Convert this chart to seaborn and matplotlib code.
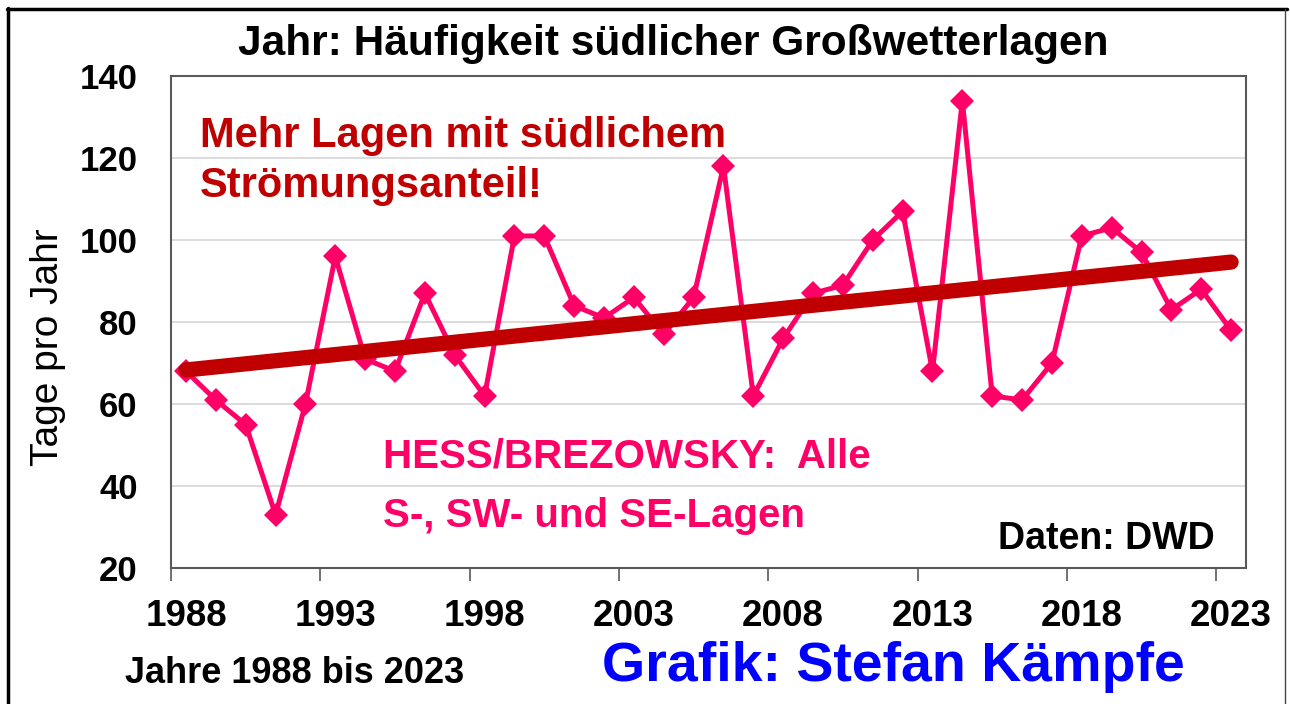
import matplotlib

matplotlib.use("Agg")
import matplotlib.pyplot as plt
from matplotlib.lines import Line2D
import numpy as np
import pandas as pd
import seaborn as sns

# Südliche Großwetterlagen (Hess/Brezowsky), Tage pro Jahr
YEARS = list(range(1988, 2024))
DAYS = [
    68, 61, 55, 33, 60, 96, 71, 68, 87, 72,
    62, 101, 101, 84, 81, 86, 77, 86, 118, 62,
    76, 87, 89, 100, 107, 68, 134, 62, 61, 70,
    101, 103, 97, 83, 88, 78,
]
Y_TICKS = [20, 40, 60, 80, 100, 120, 140]
X_TICK_YEARS = YEARS[::5]

PINK = "#FF0066"
DARK_RED = "#C00000"
BLUE = "#0000FF"
SPINE_GREY = "#595959"


def main() -> None:
    df = pd.DataFrame({"Jahr": YEARS, "Tage": DAYS})

    sns.set_theme(style="white")
    plt.rcParams["font.family"] = ["Liberation Sans", "DejaVu Sans"]
    for key in ("text.color", "axes.labelcolor", "xtick.color", "ytick.color"):
        plt.rcParams[key] = "black"

    fig = plt.figure(figsize=(12.9, 7.04), dpi=100)
    ax = fig.add_axes([0.1326, 0.193, 0.8333, 0.699])

    sns.lineplot(
        data=df,
        x="Jahr",
        y="Tage",
        ax=ax,
        color=PINK,
        linewidth=3.6,
        marker="D",
        markersize=12,
        markeredgewidth=0,
        zorder=3,
    )
    # linear trend (Excel-like trendline)
    sns.regplot(
        data=df,
        x="Jahr",
        y="Tage",
        ax=ax,
        scatter=False,
        ci=None,
        truncate=True,
        line_kws=dict(color=DARK_RED, linewidth=11, solid_capstyle="round", zorder=4),
    )

    # categories sit between the tick marks; labels sit on the category centre
    ax.set_xlim(YEARS[0] - 0.5, YEARS[-1] + 0.5)
    ax.set_xticks([y - 0.5 for y in X_TICK_YEARS])
    ax.set_xticklabels([])
    ax.set_xticks(X_TICK_YEARS, minor=True)
    ax.set_xticklabels([str(y) for y in X_TICK_YEARS], minor=True)
    ax.set_ylim(Y_TICKS[0], Y_TICKS[-1])
    ax.set_yticks(Y_TICKS)

    ax.grid(axis="y", color="#D9D9D9", linewidth=1.3)
    ax.set_axisbelow(True)
    for side in ("left", "right", "top", "bottom"):
        ax.spines[side].set_color(SPINE_GREY)
        ax.spines[side].set_linewidth(1.5)

    ax.tick_params(axis="x", which="major", direction="out", length=9, width=1.2,
                   color=SPINE_GREY, bottom=True)
    ax.tick_params(axis="x", which="minor", length=0, pad=22, labelsize=26.5, bottom=True)
    ax.tick_params(axis="y", length=0, pad=24, labelsize=25)
    for lbl in ax.get_xticklabels(minor=True) + ax.get_yticklabels():
        lbl.set_fontweight("bold")

    ax.set_xlabel("")
    ax.set_ylabel("Tage pro Jahr", fontsize=28)
    ax.yaxis.set_label_coords(-0.098, 0.449)

    # annotations inside the plot
    ax.text(0.027, 0.856, "Mehr Lagen mit südlichem", transform=ax.transAxes,
            color=DARK_RED, fontsize=30, fontweight="bold", va="baseline")
    ax.text(0.027, 0.755, "Strömungsanteil!", transform=ax.transAxes,
            color=DARK_RED, fontsize=30, fontweight="bold", va="baseline")
    ax.text(0.197, 0.205, "HESS/BREZOWSKY:  Alle", transform=ax.transAxes,
            color=PINK, fontsize=29, fontweight="bold", va="baseline")
    ax.text(0.197, 0.083, "S-, SW- und SE-Lagen", transform=ax.transAxes,
            color=PINK, fontsize=29, fontweight="bold", va="baseline")
    ax.text(0.971, 0.039, "Daten: DWD", transform=ax.transAxes,
            color="black", fontsize=27, fontweight="bold", va="baseline", ha="right")

    # figure texts
    fig.text(0.522, 0.922, "Jahr: Häufigkeit südlicher Großwetterlagen",
             fontsize=30.5, fontweight="bold", ha="center", va="baseline")
    fig.text(0.097, 0.030, "Jahre 1988 bis 2023", fontsize=26,
             fontweight="bold", va="baseline")
    fig.text(0.467, 0.032, "Grafik: Stefan Kämpfe", fontsize=40,
             fontweight="bold", color=BLUE, va="baseline")

    # outer frame of the picture
    fig.add_artist(Line2D([0.0065, 0.0065], [0.0, 0.988], transform=fig.transFigure,
                          color="black", linewidth=2.5))
    fig.add_artist(Line2D([0.0055, 0.9975], [0.987, 0.987], transform=fig.transFigure,
                          color="black", linewidth=2.5))
    fig.add_artist(Line2D([0.9965, 0.9965], [0.0, 0.987], transform=fig.transFigure,
                          color="#444444", linewidth=1.0))

    fig.savefig("out.png", dpi=100, facecolor="white")
    plt.close(fig)


if __name__ == "__main__":
    main()
